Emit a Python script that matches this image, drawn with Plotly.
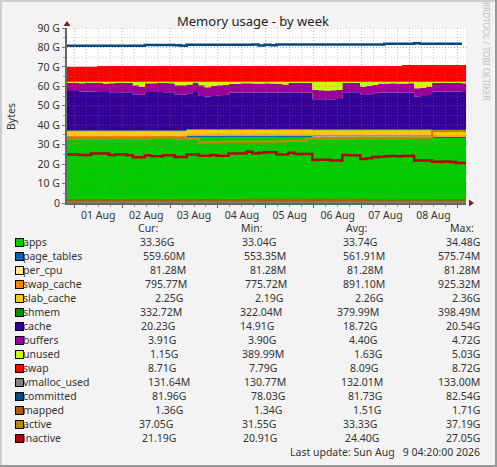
import pandas as pd
import plotly.graph_objects as go

W, H = 497, 467
L, R, T, B = 67, 466, 28, 203

start = "2026-07-31 20:20"
end = "2026-08-09 04:20"
times = pd.date_range(start, periods=68, freq="3h")

apps = [33.2] * 20 + [33.9] * 21 + [33.7] * 20 + [33.4] * 7
page_tables = [0.56] * 68
per_cpu = [0.08] * 68
swap_cache = [0.85] * 68
slab_cache = [2.25] * 68
shmem = [0.36] * 68
cache = [20.3, 20.3, 20.0, 20.0, 20.0, 19.8, 19.8, 19.6, 19.6, 19.6, 19.6, 18.4, 18.4, 19.8, 19.8, 19.8, 19.6,
         19.6, 18.4, 18.4, 18.4, 19.1, 17.0, 16.7, 17.0, 17.4, 17.5, 18.8, 18.8, 18.8, 18.8, 18.8, 18.8, 18.8,
         18.8, 18.8, 18.8, 18.8, 18.8, 18.8, 18.8, 15.5, 15.5, 15.5, 15.5, 15.7, 19.1, 19.1, 19.1, 17.7, 18.1,
         18.6, 19.0, 19.0, 19.0, 19.0, 19.0, 19.0, 16.9, 17.2, 17.7, 19.8, 19.8, 19.8, 19.8, 19.8, 19.6, 19.6]
buffers = [4.3, 4.3, 4.3, 4.6, 4.6, 4.6, 4.3, 4.7, 4.8, 4.8, 4.8, 4.8, 4.1, 4.5, 4.5, 4.6, 4.8, 4.7, 4.8, 4.8,
           4.5, 4.8, 5.5, 4.8, 5.2, 5.1, 5.2, 4.4, 4.4, 4.8, 4.8, 4.6, 4.6, 4.8, 4.6, 4.4, 4.1, 4.9, 4.9, 4.9,
           4.9, 4.8, 4.7, 4.5, 4.7, 4.6, 5.0, 5.0, 5.0, 4.3, 4.3, 4.3, 4.6, 4.6, 4.8, 4.6, 4.6, 4.8, 4.3, 4.3,
           4.3, 4.4, 4.4, 4.4, 4.4, 4.4, 4.5, 4.5]
unused = [0.4, 0.4, 0.7, 0.4, 0.4, 0.6, 0.9, 0.7, 0.6, 0.6, 0.6, 1.8, 2.5, 0.7, 0.7, 0.6, 0.6, 0.7, 1.8, 1.8,
          1.4, 0.4, 1.8, 2.8, 2.1, 1.8, 1.6, 1.1, 1.1, 0.7, 0.7, 0.9, 0.9, 0.7, 0.9, 1.1, 1.4, 0.6, 0.6, 0.6,
          0.6, 4.2, 4.3, 4.5, 4.3, 4.2, 0.4, 0.4, 0.4, 2.5, 2.1, 1.6, 0.9, 0.9, 0.7, 0.9, 0.9, 0.7, 3.3, 3.0,
          2.5, 0.6, 0.6, 0.6, 0.6, 0.6, 0.7, 0.7]
swap = [7.8] * 5 + [8.2] * 51 + [8.7] * 12
vmalloc_used = [0.13] * 68
committed = [80.9] * 13 + [81.3] * 5 + [81.1, 80.9] + [81.4] * 11 + [81.5, 81.0, 81.4, 81.1] + [81.5] * 18 + \
            [81.9] * 5 + [82.1] + [81.9] * 8
mapped = [1.45] * 30 + [1.5] * 20 + [1.36] * 18
active = [33.0] * 14 + [33.6] * 4 + [33.0] * 4 + [31.2, 31.2, 31.3, 31.3] + [31.5] * 10 + [32.0] * 4 + [33.0] * 8 + \
         [33.4] * 9 + [33.6] * 4 + [37.0] * 7
inactive = [25.0, 25.0, 24.7, 24.7, 25.4, 25.4, 25.4, 24.7, 25.0, 25.0, 24.5, 23.5, 23.5, 24.5, 24.0, 24.0, 24.5,
            24.5, 23.7, 23.7, 24.9, 24.9, 24.3, 24.3, 24.7, 24.3, 24.3, 25.4, 25.4, 25.4, 26.4, 25.5, 25.9, 26.1,
            26.1, 25.0, 25.0, 25.9, 25.2, 25.2, 25.2, 22.1, 22.3, 22.3, 21.8, 21.8, 24.7, 24.5, 24.5, 22.6, 23.0,
            23.7, 23.8, 24.0, 24.2, 24.0, 24.2, 24.3, 21.8, 21.8, 21.8, 21.2, 21.2, 21.4, 21.1, 20.6, 20.6, 20.6]

names = ["apps", "page_tables", "per_cpu", "swap_cache", "slab_cache", "shmem", "cache", "buffers", "unused",
         "swap", "vmalloc_used", "committed", "mapped", "active", "inactive"]
colors = ["#00CC00", "#0066B3", "#FFE58F", "#FF8000", "#FFCC00", "#008F00", "#330099", "#990099", "#CCFF00",
          "#FF0000", "#808080", "#00487D", "#B35A00", "#B38F00", "#B30000"]
line_widths = [2, 2.5, 2.5, 2.5, 2.5]
stacked = [apps, page_tables, per_cpu, swap_cache, slab_cache, shmem, cache, buffers, unused, swap]
lines = [vmalloc_used, committed, mapped, active, inactive]
cur = ["33.36G", "559.60M", "81.28M", "795.77M", "2.25G", "332.72M", "20.23G", "3.91G", "1.15G", "8.71G",
       "131.64M", "81.96G", "1.36G", "37.05G", "21.19G"]
mins = ["33.04G", "553.35M", "81.28M", "775.72M", "2.19G", "322.04M", "14.91G", "3.90G", "389.99M", "7.79G",
        "130.77M", "78.03G", "1.34G", "31.55G", "20.91G"]
avg = ["33.74G", "561.91M", "81.28M", "891.10M", "2.26G", "379.99M", "18.72G", "4.40G", "1.63G", "8.09G",
       "132.01M", "81.73G", "1.51G", "33.33G", "24.40G"]
maxs = ["34.48G", "575.74M", "81.28M", "925.32M", "2.36G", "398.49M", "20.54G", "4.72G", "5.03G", "8.72G",
        "133.00M", "82.54G", "1.71G", "37.19G", "27.05G"]
cur_end = [175, 186, 187, 188, 184, 183, 176, 177, 179, 177, 191, 187, 184, 174, 177]
min_end = [277, 287, 287, 288, 284, 283, 275, 277, 285, 278, 287, 286, 283, 277, 278]
avg_end = [378, 386, 384, 386, 384, 380, 378, 378, 383, 379, 384, 383, 382, 378, 380]

FONT = "Noto Sans"
TXT = "#333333"


def px(x):
    return (x - L) / (R - L)


def py(y):
    return (B - y) / (B - T)


fig = go.Figure()
for name, color, vals in zip(names[:10], colors[:10], stacked):
    fig.add_trace(go.Scatter(x=times, y=vals, name=name, stackgroup="mem", mode="lines",
                             line=dict(width=0, color=color, shape="hv"), fillcolor=color))
for name, color, vals, lw in zip(names[10:], colors[10:], lines, line_widths):
    fig.add_trace(go.Scatter(x=times, y=vals, name=name, mode="lines",
                             line=dict(width=lw, color=color, shape="hv")))

shapes = []
for t in pd.date_range("2026-08-01 00:00", end, freq="6h"):
    major = t.hour == 0
    shapes.append(dict(type="line", xref="x", yref="paper", x0=t, x1=t, y0=0, y1=1, layer="above",
                       line=dict(width=1, dash="1px,2px",
                                 color="rgba(210,80,80,0.55)" if major else "rgba(130,130,130,0.4)")))
for g in range(5, 95, 5):
    major = g % 10 == 0
    shapes.append(dict(type="line", xref="paper", yref="y", x0=0, x1=1.004, y0=g, y1=g, layer="above",
                       line=dict(width=1, dash="1px,2px",
                                 color="rgba(210,80,80,0.55)" if major else "rgba(130,130,130,0.4)")))
# frame of the canvas
for x0, x1, y0, y1, c in [(0, 2, 0, H, "#CCCCCC"), (0, W, 0, 2, "#CCCCCC"),
                          (495, W, 0, H, "#999999"), (0, W, 465, H, "#999999")]:
    shapes.append(dict(type="rect", xref="paper", yref="paper", x0=px(x0), x1=px(x1), y0=py(y0), y1=py(y1),
                       line=dict(width=0), fillcolor=c, layer="below"))
# axis arrows
shapes.append(dict(type="path", xref="paper", yref="paper", layer="above", fillcolor="#7F1F1F", line=dict(width=0),
                   path=f"M {px(63.5)} {py(26)} L {px(70.5)} {py(26)} L {px(67)} {py(21)} Z"))
shapes.append(dict(type="path", xref="paper", yref="paper", layer="above", fillcolor="#7F1F1F", line=dict(width=0),
                   path=f"M {px(469)} {py(199.5)} L {px(469)} {py(206.5)} L {px(474)} {py(203)} Z"))

ann = []


def text(x, y, s, anchor="left", size=10.5, color=TXT, angle=0):
    ann.append(dict(xref="paper", yref="paper", x=px(x), y=py(y), text=s, showarrow=False, xanchor=anchor,
                    yanchor="middle", textangle=angle, borderpad=0, font=dict(family=FONT, size=size, color=color)))


text(253, 21, "Memory usage - by week", "center", 13, "#222222")
text(11, 117, "Bytes", "center", 10.5, TXT, -90)
text(487, 51, "RRDTOOL / TOBI OETIKER", "center", 8.2, "#BDBDBD", 90)
for label, x in [("Cur:", 148), ("Min:", 252), ("Avg:", 357), ("Max:", 462)]:
    text(x, 227.5, label, "center")
for i, name in enumerate(names):
    y = 242 + 14 * i
    text(21.5, y, name)
    text(cur_end[i], y, cur[i], "right")
    text(min_end[i], y, mins[i], "right")
    text(avg_end[i], y, avg[i], "right")
    text(481, y, maxs[i], "right")
for i, color in enumerate(colors):
    y = 242 + 14 * i
    ann.append(dict(xref="paper", yref="paper", x=px(15), y=py(y + 0.5), text=" ", showarrow=False, xanchor="left",
                    yanchor="middle", width=7, height=7, bgcolor=color, bordercolor="#000000", borderwidth=1,
                    borderpad=0, font=dict(size=6)))
text(481, 452, "Last update: Sun Aug\u00a0\u00a0 9 04:20:00 2026", "right")

fig.update_layout(
    width=W, height=H, margin=dict(l=L, r=W - R, t=T, b=H - B, autoexpand=False),
    paper_bgcolor="#F3F3F3", plot_bgcolor="#FFFFFF", showlegend=False,
    shapes=shapes, annotations=ann,
    font=dict(family=FONT, size=10.5, color=TXT),
    xaxis=dict(type="date", range=[start, end], dtick=86400000, tick0="2026-08-01", tickformat="%d %b",
               ticklabelmode="period", ticks="outside", ticklen=3, tickcolor="#8A4A4A", showgrid=False,
               showline=True, linecolor="#666666", linewidth=2, zeroline=False, ticklabelstandoff=-2,
               minor=dict(dtick=21600000, ticks="outside", ticklen=2, tickcolor="#999999", showgrid=False),
               tickfont=dict(family=FONT, size=10.5, color=TXT)),
    yaxis=dict(range=[0, 90], tickvals=list(range(0, 100, 10)),
               ticktext=["0"] + [f"{v} G" for v in range(10, 100, 10)], ticks="outside", ticklen=3,
               tickcolor="#777777", showgrid=False, showline=True, linecolor="#666666", linewidth=2, zeroline=False,
               minor=dict(dtick=5, tick0=0, ticks="outside", ticklen=2, tickcolor="#999999", showgrid=False),
               tickfont=dict(family=FONT, size=10.5, color=TXT)),
)
fig.write_html("out.html", config=dict(displayModeBar=False),
               post_script="document.body.style.margin='0';")
